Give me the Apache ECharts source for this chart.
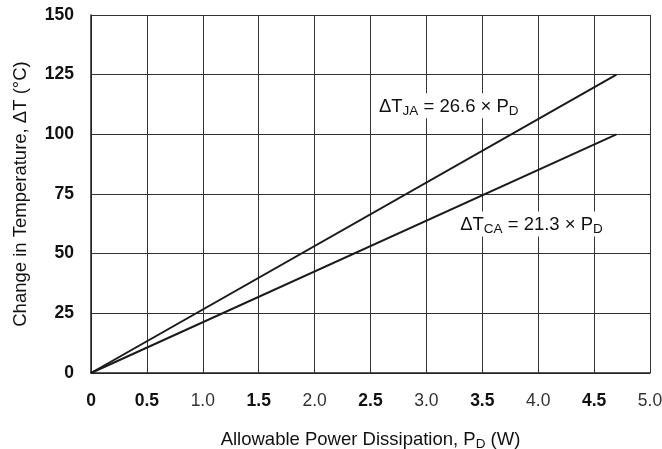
<!DOCTYPE html>
<html>
<head>
<meta charset="utf-8">
<script src="https://cdn.jsdelivr.net/npm/echarts@6/dist/echarts.min.js"></script>
<style>
  html, body { margin: 0; padding: 0; background: #fff; }
  #chart { width: 662px; height: 449px; }
</style>
</head>
<body>
<div id="chart"></div>
<script>
// data
var powerW = [0, 4.7];
var deltaJA = [0, 125];
var deltaCA = [0, 100];
var yTicks = [0, 25, 50, 75, 100, 125, 150];
var boldX = ['0', '0.5', '1.5', '2.5', '3.5', '4.5'];

var chart = echarts.init(document.getElementById('chart'));

function pairs(xs, ys) {
  return xs.map(function (x, i) { return [x, ys[i]]; });
}

var font = 'Arial, "Liberation Sans", sans-serif';
var main = { fontSize: 18.5, fontFamily: font, color: '#111' };
var sub = { fontSize: 13.5, fontFamily: font, color: '#111', verticalAlign: 'bottom', padding: [9, 0, 0, 0] };

function eqLabel(name, text) {
  return {
    show: true,
    formatter: '{m|ΔT}{s|' + name + '}{m|' + text + '}{s|D}',
    backgroundColor: '#fff',
    padding: [2, 4, 0, 4],
    rich: { m: main, s: sub }
  };
}

var option = {
  backgroundColor: '#fff',
  animation: false,
  grid: { left: 91, right: 12, top: 15, bottom: 76, outerBoundsMode: 'none' },
  xAxis: {
    type: 'value',
    min: 0, max: 5, interval: 0.5,
    name: '{t|Allowable Power Dissipation, P}{s|D}{t| (W)}',
    nameLocation: 'middle',
    nameGap: 55,
    nameTextStyle: { rich: { t: main, s: sub } },
    axisLine: { show: true, lineStyle: { color: '#222', width: 1.5 } },
    axisTick: { show: false },
    splitLine: { show: true, lineStyle: { color: '#333', width: 1 } },
    axisLabel: {
      margin: 19,
      formatter: function (v) {
        var s = v === 0 ? '0' : v.toFixed(1);
        return boldX.indexOf(s) >= 0 ? '{b|' + s + '}' : '{n|' + s + '}';
      },
      rich: {
        b: { fontSize: 17.5, fontWeight: 'bold', fontFamily: font, color: '#111' },
        n: { fontSize: 17.5, fontFamily: font, color: '#333' }
      }
    }
  },
  yAxis: {
    type: 'value',
    min: yTicks[0], max: yTicks[yTicks.length - 1], interval: 25,
    name: 'Change in Temperature, ΔT (°C)',
    nameLocation: 'middle',
    nameGap: 61,
    nameTextStyle: { fontSize: 18.5, fontFamily: font, color: '#111' },
    axisLine: { show: true, lineStyle: { color: '#222', width: 1.5 } },
    axisTick: { show: false },
    splitLine: { show: true, lineStyle: { color: '#333', width: 1 } },
    axisLabel: { margin: 17, fontSize: 17.5, fontWeight: 'bold', fontFamily: font, color: '#111' }
  },
  series: [
    {
      name: 'JA',
      type: 'line',
      data: pairs(powerW, deltaJA),
      symbol: 'none',
      lineStyle: { color: '#1a1a1a', width: 2 },
      markPoint: {
        symbol: 'rect', symbolSize: 0,
        data: [{ coord: [3.2, 112], label: eqLabel('JA', ' = 26.6 × P') }]
      }
    },
    {
      name: 'CA',
      type: 'line',
      data: pairs(powerW, deltaCA),
      symbol: 'none',
      lineStyle: { color: '#1a1a1a', width: 2 },
      markPoint: {
        symbol: 'rect', symbolSize: 0,
        data: [{ coord: [3.94, 62.4], label: eqLabel('CA', ' = 21.3 × P') }]
      }
    }
  ]
};

chart.setOption(option);
</script>
</body>
</html>
